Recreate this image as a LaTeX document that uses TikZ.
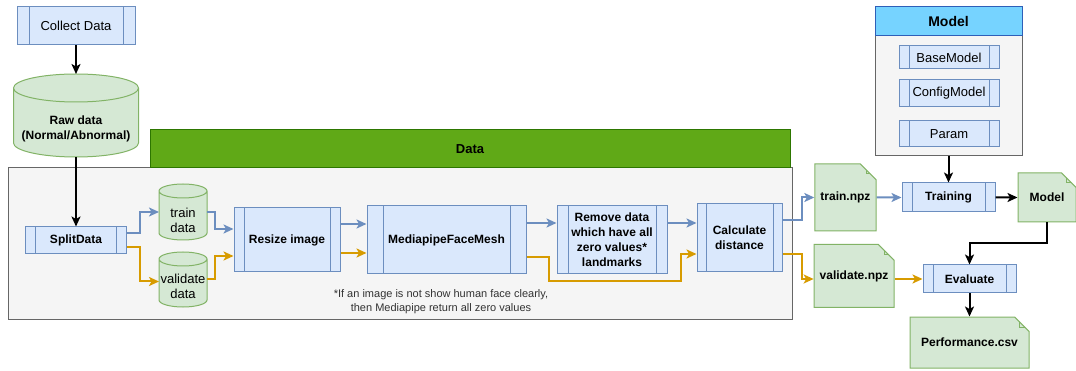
\documentclass[tikz,border=0pt]{standalone}
\usepackage{fontspec}
\setmainfont{Liberation Sans}
\usepackage{tikz}
\usetikzlibrary{arrows.meta}
\usetikzlibrary{shapes.misc}
\usetikzlibrary{calc}
\usetikzlibrary{positioning}

\definecolor{procfill}{HTML}{DAE8FC}
\definecolor{procline}{HTML}{6C8EBF}
\definecolor{notefill}{HTML}{D5E8D4}
\definecolor{noteline}{HTML}{82B366}
\definecolor{lanefill}{HTML}{F5F5F5}
\definecolor{laneline}{HTML}{666666}
\definecolor{datagreen}{HTML}{60A917}
\definecolor{datadark}{HTML}{2D7600}
\definecolor{modelblue}{HTML}{76D3FF}
\definecolor{modeldark}{HTML}{2E5FB8}
\definecolor{trainflow}{HTML}{6C8EBF}
\definecolor{validflow}{HTML}{D79B00}

\begin{document}
\begin{tikzpicture}
          [x=1pt, y=-1pt,
           every node/.style={font=\fontsize{13}{15}\selectfont, inner sep=0pt, align=center},
           bold/.style={font=\fontsize{12}{15}\selectfont\bfseries},
           proc/.style={draw=procline, fill=procfill, line width=1pt,
             path picture={\draw[procline, line width=1pt]
               ([xshift=#1]path picture bounding box.north west) -- ([xshift=#1]path picture bounding box.south west)
               ([xshift=-#1]path picture bounding box.north east) -- ([xshift=-#1]path picture bounding box.south east);}},
           proc/.default=10pt,
           store/.style={outer sep=0pt, append after command={\pgfextra{
             \draw[noteline, fill=notefill, line width=1pt]
               let \p1=(\tikzlastnode.north west), \p2=(\tikzlastnode.south east), \n1={(\x2-\x1)/2} in
               ([yshift=-#1]\tikzlastnode.north west) -- ([yshift=#1]\tikzlastnode.south west)
               arc[start angle=180, end angle=360, x radius=\n1, y radius=#1]
               -- ([yshift=-#1]\tikzlastnode.north east)
               arc[start angle=0, end angle=180, x radius=\n1, y radius=#1] -- cycle
               ([yshift=-#1]\tikzlastnode.north west)
               arc[start angle=180, end angle=360, x radius=\n1, y radius=#1];}}},
           store/.default=7pt,
           note/.style={chamfered rectangle, chamfered rectangle corners=north east, chamfered rectangle sep=10pt,
             draw=noteline, fill=notefill, line width=1pt, bold,
             path picture={\draw[noteline, line width=1pt]
               ([xshift=-10pt]path picture bounding box.north east) -- ++(0,-10pt)
               -- ([yshift=-10pt]path picture bounding box.north east);}},
           flow/.style={line width=2pt, -{Stealth[length=10pt, width=9pt, inset=2.5pt]}},
           blueflow/.style={flow, draw=trainflow},
           goldflow/.style={flow, draw=validflow}]
          \useasboundingbox (0,0) rectangle (1076,371);

          % lanes
          \node[draw=laneline, fill=lanefill, line width=1pt, minimum width=784pt, minimum height=151pt] (databody) at (400,243.5) {};
          \node[draw=datadark, fill=datagreen, line width=1pt, minimum width=640pt, minimum height=38pt,
                font=\fontsize{13}{15}\selectfont\bfseries] (datahead) at (470,149) {Data};
          \node[draw=laneline, fill=lanefill, line width=1pt, minimum width=147pt, minimum height=120pt] (modelbody) at (948.5,96) {};
          \node[draw=modeldark, fill=modelblue, line width=1pt, minimum width=147pt, minimum height=29pt,
                font=\fontsize{14}{16}\selectfont\bfseries] (modelhead) at (948.5,21.5) {Model};

          % left column
          \node[proc=12pt, minimum width=118pt, minimum height=38pt] (collect) at (76,26) {Collect Data};
          \node[store=14pt, minimum width=125pt, minimum height=83pt] (raw) at (76,115.5) {};
          \node[bold] (rawtext) at ([yshift=-13pt]raw.center) {Raw data\\(Normal/Abnormal)};
          \node[proc, bold, minimum width=101pt, minimum height=27pt] (split) at (76,240.5) {SplitData};
          \node[store, minimum width=48pt, minimum height=56pt] (train) at (183,212) {};
          \node (traintext) at ([yshift=-8.5pt]train.center) {train\\data};
          \node[store, minimum width=48pt, minimum height=55pt] (valid) at (183,279.5) {};
          \node (validtext) at ([yshift=-7pt]valid.center) {validate\\data};

          % data chain
          \node[proc, bold, minimum width=106pt, minimum height=64pt] (resize) at (287,240) {Resize image};
          \node[proc=16pt, bold, minimum width=159pt, minimum height=68pt, right=26pt of resize] (mesh) {MediapipeFaceMesh};
          \node[proc=11pt, bold, minimum width=110pt, minimum height=68pt, right=30pt of mesh] (remove)
            {Remove data\\which have all\\zero values*\\landmarks};
          \node[proc=9pt, bold, minimum width=85pt, minimum height=68pt] (calc) at (739.5,238) {Calculate\\distance};
          \node[font=\fontsize{11}{14}\selectfont, text=black!80] (footnote) at (441,302)
            {*If an image is not show human face clearly,\\then Mediapipe return all zero values};

          % model part
          \node[proc, minimum width=100pt, minimum height=23pt] (base) at (949,57.5) {BaseModel};
          \node[proc, minimum width=100pt, minimum height=27pt] (config) at (949,93.5) {ConfigModel};
          \node[proc, minimum width=100pt, minimum height=26pt] (param) at (949,134) {Param};
          \node[proc, bold, minimum width=93pt, minimum height=29pt] (training) at (948.5,197.5) {Training};
          \node[note, minimum width=57pt, minimum height=67pt, left=25pt of training] (trainz) {train.npz};
          \node[note, minimum width=58pt, minimum height=49pt, right=22pt of training] (modelz) {Model};
          \node[proc, bold, minimum width=93pt, minimum height=28pt] (evaluate) at (969.5,279) {Evaluate};
          \node[note, minimum width=75pt, minimum height=63pt, left=28pt of evaluate, yshift=3pt] (validz) {validate.npz};
          \node[note, minimum width=119pt, minimum height=51pt, below=23pt of evaluate] (perf) {Performance.csv};

          % connectors
          \draw[flow] (collect) -- (raw);
          \draw[flow] (raw) -- (split);
          \draw[blueflow] ([yshift=7pt]split.east) -- ++(13pt,0) |- (train.west);
          \draw[goldflow] ([yshift=-7pt]split.east) -- ++(13pt,0) |- ([yshift=-2pt]valid.west);
          \draw[blueflow] (train.east) -- ++(8pt,0) |- ([yshift=11pt]resize.west);
          \draw[goldflow] (valid.east) -- ++(8pt,0) |- ([yshift=-16pt]resize.west);
          \draw[blueflow] ([yshift=16pt]resize.east) -- ([yshift=16pt]mesh.west);
          \draw[goldflow] ([yshift=-13pt]resize.east) -- ([yshift=-13pt]mesh.west);
          \draw[blueflow] ([yshift=17pt]mesh.east) -- ([yshift=17pt]remove.west);
          \draw[goldflow] ([yshift=-17pt]mesh.east) -- ++(22pt,0) -- ++(0,-24pt) -- ++(132pt,0) |- ([yshift=-16pt]calc.west);
          \draw[blueflow] ([yshift=17pt]remove.east) -- ([yshift=15pt]calc.west);
          \draw[blueflow] ([yshift=18pt]calc.east) -- ++(19pt,0) |- (trainz.west);
          \draw[goldflow] ([yshift=-16pt]calc.east) -- ++(19pt,0) |- (validz.west |- evaluate);
          \draw[blueflow] (trainz) -- (training);
          \draw[flow] (modelbody) -- (training);
          \draw[flow] (training) -- (modelz);
          \draw[flow] (modelz.south) -- ++(0,-21pt) -| (evaluate.north);
          \draw[goldflow] (validz.east |- evaluate) -- (evaluate);
          \draw[flow] (evaluate.south) -- (evaluate.south |- perf.north);

        \end{tikzpicture}
\end{document}
